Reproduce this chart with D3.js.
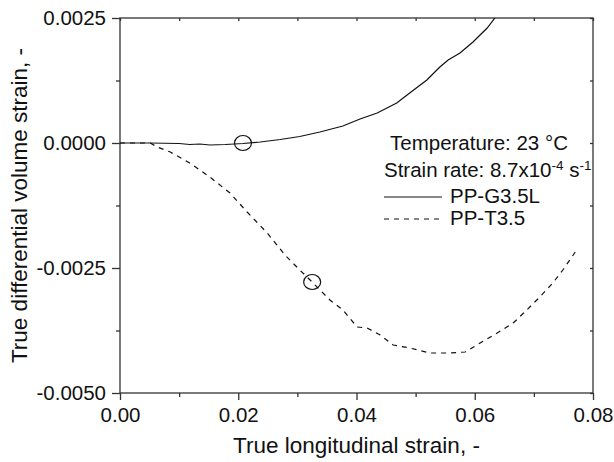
<!DOCTYPE html>
<html>
<head>
<meta charset="utf-8" />
<script src="https://d3js.org/d3.v7.min.js"></script>
<style>
  body { margin: 0; background: #fff; }
  text { font-family: "Liberation Sans", Arial, sans-serif; fill: #111; }
</style>
</head>
<body>
<svg id="viz"></svg>
<script>
var width = 614, height = 462;
var margin = {top: 18, right: 21, bottom: 69, left: 120};

// PP-G3.5L (solid)
var strainG = [0, 0.005, 0.010, 0.0118, 0.0135, 0.0152, 0.0178, 0.0208, 0.0237, 0.0271, 0.0304, 0.0338, 0.0377,
  0.0406, 0.0435, 0.0468, 0.0490, 0.0519, 0.0541, 0.0555, 0.0575, 0.0597, 0.0621, 0.0634, 0.0645];
var volG = [0, 0, -0.00001, -0.00003, -0.00002, -0.00004, -0.00003, -0.00001, 0.00002, 0.00007, 0.00013, 0.00022, 0.00034,
  0.00048, 0.0006, 0.0008, 0.0010, 0.00126, 0.00152, 0.00166, 0.0018, 0.00202, 0.0023, 0.0025, 0.0027];

// PP-T3.5 (dashed)
var strainT = [0, 0.0051, 0.0063, 0.0085, 0.0118, 0.0152, 0.0186, 0.0215, 0.0249, 0.0279, 0.0304, 0.0325, 0.0355,
  0.0377, 0.0401, 0.0418, 0.0440, 0.0462, 0.0490, 0.0524, 0.0558, 0.0584, 0.0609, 0.0638, 0.0665, 0.0688,
  0.0710, 0.0732, 0.0749, 0.0770];
var volT = [0, 0, -0.00008, -0.00018, -0.0004, -0.00068, -0.0010, -0.00138, -0.0018, -0.00224, -0.00254, -0.00278, -0.00314,
  -0.00334, -0.00368, -0.0037, -0.00384, -0.00404, -0.0041, -0.0042, -0.0042, -0.00418, -0.0040, -0.0038, -0.0036, -0.00334,
  -0.00308, -0.0028, -0.00254, -0.00218];

// marked points
var markers = [[0.0208, 0], [0.0325, -0.00278]];

var xTicks = [0, 0.02, 0.04, 0.06, 0.08];
var xMinor = [0.01, 0.03, 0.05, 0.07];
var yTicks = [-0.005, -0.0025, 0, 0.0025];
var yMinor = [-0.00375, -0.00125, 0.00125];

var svg = d3.select("#viz").attr("width", width).attr("height", height);

var x = d3.scaleLinear().domain([0, 0.08]).range([margin.left, width - margin.right]);
var y = d3.scaleLinear().domain([-0.005, 0.0025]).range([height - margin.bottom, margin.top]);

var axisColor = "#333";
var fs = "20.5px";

// clip
svg.append("clipPath").attr("id", "clip").append("rect")
  .attr("x", x(0)).attr("y", y(0.0025))
  .attr("width", x(0.08) - x(0)).attr("height", y(-0.005) - y(0.0025));

function styleAxis(g) {
  g.select(".domain").remove();
  g.selectAll("line").attr("stroke", axisColor).attr("stroke-width", 1.3);
  g.selectAll("text").attr("font-size", fs).attr("fill", "#111");
}

// bottom
svg.append("g").attr("transform", "translate(0," + y(-0.005) + ")")
  .call(d3.axisBottom(x).tickValues(xTicks).tickSize(7).tickPadding(7).tickFormat(d3.format(".2f")))
  .call(styleAxis);
svg.append("g").attr("transform", "translate(0," + y(-0.005) + ")")
  .call(d3.axisBottom(x).tickValues(xMinor).tickSize(4).tickFormat(""))
  .call(styleAxis);
// left
svg.append("g").attr("transform", "translate(" + x(0) + ",0)")
  .call(d3.axisLeft(y).tickValues(yTicks).tickSize(8).tickPadding(6).tickFormat(d3.format(".4f")))
  .call(styleAxis);
svg.selectAll("text").filter(function () { return this.textContent.indexOf("−") >= 0; })
  .text(function () { return this.textContent.replace("−", "-"); });
svg.append("g").attr("transform", "translate(" + x(0) + ",0)")
  .call(d3.axisLeft(y).tickValues(yMinor).tickSize(4).tickFormat(""))
  .call(styleAxis);
// top (inward)
svg.append("g").attr("transform", "translate(0," + y(0.0025) + ")")
  .call(d3.axisTop(x).tickValues(xTicks.concat(xMinor)).tickSize(-3).tickFormat(""))
  .call(styleAxis);
// right (inward)
svg.append("g").attr("transform", "translate(" + x(0.08) + ",0)")
  .call(d3.axisRight(y).tickValues(yTicks.concat(yMinor)).tickSize(-3).tickFormat(""))
  .call(styleAxis);

// frame
svg.append("rect")
  .attr("x", x(0)).attr("y", y(0.0025))
  .attr("width", x(0.08) - x(0)).attr("height", y(-0.005) - y(0.0025))
  .attr("fill", "none").attr("stroke", axisColor).attr("stroke-width", 1.3);

var line = d3.line().x(function (d) { return x(d[0]); }).y(function (d) { return y(d[1]); });

var curves = svg.append("g").attr("clip-path", "url(#clip)");
curves.append("path").datum(d3.zip(strainG, volG))
  .attr("d", line).attr("fill", "none").attr("stroke", "#111").attr("stroke-width", 1.2);
curves.append("path").datum(d3.zip(strainT, volT))
  .attr("d", line).attr("fill", "none").attr("stroke", "#111").attr("stroke-width", 1.2)
  .attr("stroke-dasharray", "5,5");

svg.selectAll("ellipse.mark").data(markers).enter().append("ellipse")
  .attr("class", "mark")
  .attr("cx", function (d) { return x(d[0]); })
  .attr("cy", function (d) { return y(d[1]); })
  .attr("rx", 8.5).attr("ry", 7.5)
  .attr("fill", "none").attr("stroke", "#111").attr("stroke-width", 1.2);

// legend / annotation
svg.append("text").attr("x", 390).attr("y", 150).attr("font-size", fs)
  .text("Temperature: 23 \u00B0C");
var sr = svg.append("text").attr("x", 384).attr("y", 177).attr("font-size", fs);
sr.append("tspan").text("Strain rate: 8.7x10");
sr.append("tspan").attr("dy", -7).attr("font-size", "13.5px").text("-4");
sr.append("tspan").attr("dy", 7).text(" s");
sr.append("tspan").attr("dy", -7).attr("font-size", "13.5px").text("-1");

svg.append("line").attr("x1", 384).attr("x2", 442).attr("y1", 197).attr("y2", 197)
  .attr("stroke", "#111").attr("stroke-width", 1.2);
svg.append("text").attr("x", 450).attr("y", 203).attr("font-size", fs).text("PP-G3.5L");
svg.append("line").attr("x1", 384).attr("x2", 442).attr("y1", 219).attr("y2", 219)
  .attr("stroke", "#111").attr("stroke-width", 1.2).attr("stroke-dasharray", "5,5");
svg.append("text").attr("x", 450).attr("y", 225).attr("font-size", fs).text("PP-T3.5");

// axis titles
svg.append("text").attr("x", (x(0) + x(0.08)) / 2).attr("y", 453)
  .attr("text-anchor", "middle").attr("font-size", "22.5px")
  .text("True longitudinal strain, -");
svg.append("text").attr("transform", "translate(27," + ((y(0.0025) + y(-0.005)) / 2) + ") rotate(-90)")
  .attr("text-anchor", "middle").attr("font-size", "22.5px")
  .text("True differential volume strain, -");
</script>
</body>
</html>
